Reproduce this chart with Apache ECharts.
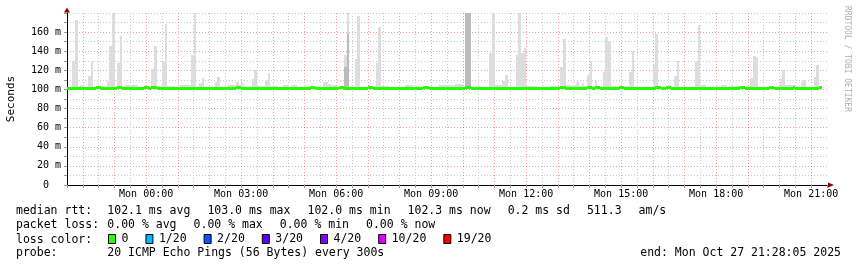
<!DOCTYPE html>
<html>
<head>
<meta charset="utf-8">
<script src="https://cdn.jsdelivr.net/npm/echarts@6.0.0/dist/echarts.min.js"></script>
<style>
html,body{margin:0;padding:0;background:#ffffff;}
#chart{width:857px;height:267px;}
</style>
</head>
<body>
<div id="chart"></div>
<script>
// ---------------- data ----------------
const START_MIN = -150;   // Sun 21:30 (minutes from Mon 00:00)
const END_MIN = 1290;     // Mon 21:30
const STEP_MIN = 5;       // 300 s probe step

const xTickMinutes = [0, 180, 360, 540, 720, 900, 1080, 1260];
const xTickLabels = ['Mon 00:00', 'Mon 03:00', 'Mon 06:00', 'Mon 09:00', 'Mon 12:00', 'Mon 15:00', 'Mon 18:00', 'Mon 21:00'];
const yTickValues = [0, 20, 40, 60, 80, 100, 120, 140, 160];
const yTickLabels = ['0  ', '20 m', '40 m', '60 m', '80 m', '100 m', '120 m', '140 m', '160 m'];

// top of the ping "smoke" per 5-minute step (ms)
const smokeMax = [
  102,102,130,173,102,105,102,102,114,130,102,102,102,102,102,108.6,145.5,179.5,102,128,156,102,104.5,104.5,
  104.5,104.5,104.5,102,102,104,104,102,121,145.5,104,104,128.6,169,104,104,104,102,102,105,105,105,105,136,
  179.6,102,106.5,112,102,102,102,102,107.5,113,102,102,102,105,105,105,107.5,105,107,102,102,102,111,120,
  104,104,104,109.6,117,104,104,104,102,102,104.7,104.7,102,104.5,104.5,102,102,102,102,102,102,102,102,102,
  102,107.5,107.5,106,104.5,104.5,102,102,102,135.7,179.6,102,102,132,177,102,102,102,102,102,102,127.6,165.6,104,
  104,104,102,102,102,102,102,102,104.5,104.5,104.5,102,102,102,102,102,102,102,102,102,102,104.5,104.5,104.5,
  104.5,104.5,104.5,106,106,106,102,179.6,179.6,102,102,102,102,102,102,102,138.5,179.6,104.5,104.5,104.5,109,115,102,
  102,102,136,179.6,138.5,143,104,104,104,104,102,102,102,102,102,104,104,104,104,123,153,104.5,104.5,104.5,
  104.5,108,104,107,104,115,130,104,109,102,102,118,155,151,104,104,102,102,102,104,104,118,140.6,102,
  102,102,102,102,102,102,125.5,158,102,102,102,102,102,102,114,130,102,102,102,102,102,102,129,167,
  104.5,104.5,102,102,102,102,102,102,105,105,102,104,104,104,104,102,102,102,102,112,135,134,102,102,
  102,102,102,102,102,102,110.7,120.5,104.5,104.5,104.5,104.5,102,102,107.5,110,102,102,102,113,125.5,104
];

// denser (darker) smoke: step index and its top (ms)
const darkSteps = [105, 106, 151, 152];
const darkTops = [124, 158, 179.6, 179.6];

// median rtt per 5-minute step (ms)
const median = [
  102,102,102,102,102,102,102,102,102,102,102,103,103,102,102,102,102,102,102,103,103,102,102,102,
  102,102,102,102,102,103,103,102,103,103,102,102,102,102,102,102,102,102,102,102,102,102,102,102,
  102,102,102,102,102,102,102,102,102,102,102,102,102,102,102,102,103,103,102,102,102,102,102,102,
  102,102,102,102,102,102,102,102,102,102,102,102,102,102,102,102,102,102,102,102,103,103,102,102,
  102,102,102,102,102,102,102,103,103,102,102,102,102,102,102,102,102,102,103,103,102,102,102,102,
  102,102,102,102,102,102,102,102,102,102,102,102,102,102,102,103,103,102,102,102,102,102,102,102,
  102,102,102,102,102,102,102,103,103,102,102,102,102,102,102,102,102,102,102,102,102,102,102,102,
  102,102,102,102,102,102,102,102,102,102,102,102,102,102,102,102,102,102,102,103,103,102,102,102,
  102,102,102,102,102,103,103,102,103,103,102,102,102,102,102,102,102,103,103,102,102,102,102,102,
  102,102,102,102,102,102,102,103,103,102,102,103,103,102,102,102,102,102,102,102,102,102,102,102,
  102,102,102,102,102,102,102,102,102,102,102,102,102,102,102,103,103,102,102,102,102,102,102,102,
  102,102,103,103,102,102,102,102,102,102,102,103,102,102,102,102,102,102,102,102,102,102.3
];

const lossLabels = ['0', '1/20', '2/20', '3/20', '4/20', '10/20', '19/20'];
const lossColors = ['#26ff00', '#00b8ff', '#0059ff', '#5e00ff', '#7e00ff', '#dd00ff', '#ff0000'];

const rttStatValues = ['102.1', '103.0', '102.0', '102.3'];
const rttStatNames = ['avg', 'max', 'min', 'now'];
const rttSd = '0.2';
const rttAmS = '511.3';
const lossStatValues = ['0.00', '0.00', '0.00', '0.00'];
const probeText = '20 ICMP Echo Pings (56 Bytes) every 300s';
const endText = 'end: Mon Oct 27 21:28:05 2025';

// ---------------- build ----------------
const MONO = 'DejaVu Sans Mono';
const n = Math.min(smokeMax.length, median.length);
const stepTime = i => START_MIN + i * STEP_MIN;

const lightData = [], medData = [], darkData = [];
for (let i = 0; i < n; i++) {
  lightData.push([stepTime(i), median[i], smokeMax[i]]);
  medData.push([stepTime(i), median[i]]);
}
darkSteps.forEach((s, k) => darkData.push([stepTime(s), median[s], darkTops[k]]));

function rectRender(color) {
  return function (params, api) {
    const t = api.value(0), lo = api.value(1), hi = api.value(2);
    if (!(hi > lo)) return null;
    const a = api.coord([t, hi]);
    const b = api.coord([t + STEP_MIN, lo]);
    const x0 = Math.round(a[0]), x1 = Math.round(b[0]);
    const y0 = Math.round(a[1]), y1 = Math.round(b[1]);
    return { type: 'rect', shape: { x: x0, y: y0, width: x1 - x0, height: y1 - y0 }, style: { fill: color } };
  };
}
function medianRender(params, api) {
  const t = api.value(0), v = api.value(1);
  const a = api.coord([t, v]);
  const b = api.coord([t + STEP_MIN, v]);
  const x0 = Math.round(a[0]), x1 = Math.round(b[0]);
  const yc = Math.round(a[1]);
  return { type: 'rect', shape: { x: x0, y: yc - 1, width: x1 - x0, height: 3 }, style: { fill: lossColors[0] } };
}

// legend text lines laid out like rrdtool (items separated by a fixed gap)
const FS = 11.5;
const measure = (() => {
  const c = document.createElement('canvas').getContext('2d');
  c.font = FS + 'px "' + MONO + '"';
  return s => c.measureText(s).width;
})();
const LEFT_X = 16, VALUE_X = 107.3, GAP = 17;
function flow(items, y) {
  let x = VALUE_X;
  return items.map(s => {
    const el = { type: 'text', x: x, y: y, style: { text: s, fill: '#000', fontSize: FS, fontFamily: MONO, verticalAlign: 'middle' } };
    x += measure(s) + GAP;
    return el;
  });
}
const lineY = [211, 225.5, 240, 253.5];
const line1 = rttStatValues.map((v, i) => v + ' ms ' + rttStatNames[i]).concat([rttSd + ' ms sd', rttAmS, 'am/s']);
const line2 = lossStatValues.map((v, i) => v + ' % ' + rttStatNames[i]);
const label = (t, y) => ({ type: 'text', x: LEFT_X, y: y, style: { text: t, fill: '#000', fontSize: FS, fontFamily: MONO, verticalAlign: 'middle' } });

const graphics = [
  label('median rtt:', lineY[0]),
  ...flow(line1, lineY[0]),
  label('packet loss:', lineY[1]),
  ...flow(line2, lineY[1]),
  label('loss color:', lineY[2]),
  label('probe:', lineY[3]),
  { type: 'text', x: VALUE_X, y: lineY[3], style: { text: probeText, fill: '#000', fontSize: FS, fontFamily: MONO, verticalAlign: 'middle' } },
  { type: 'text', x: 841, y: lineY[3], style: { text: endText, fill: '#000', fontSize: FS, fontFamily: MONO, align: 'right', verticalAlign: 'middle' } },
  { type: 'text', x: 847.5, y: 59, rotation: -Math.PI / 2, style: { text: 'RRDTOOL / TOBI OETIKER', fill: '#b0b0b0', fontSize: 8, fontFamily: MONO, align: 'center', verticalAlign: 'middle' } }
];

const GRID_RED = 'rgba(255,0,0,0.38)';
const GRID_GRAY = '#c8c8c8';
const DASH = [1, 2];

const option = {
  animation: false,
  backgroundColor: '#ffffff',
  grid: { left: 67, right: 30, top: 13, bottom: 82, containLabel: false, outerBoundsMode: 'none' },
  legend: {
    data: lossLabels, left: 108, top: 233, padding: 0, itemGap: 17, itemWidth: 7, itemHeight: 9,
    icon: 'rect', selectedMode: false,
    itemStyle: { borderColor: '#000', borderWidth: 1 },
    textStyle: { fontFamily: MONO, fontSize: FS, color: '#000', padding: [0, 0, 0, 1] }
  },
  xAxis: [
    {
      type: 'value', min: START_MIN, max: END_MIN, interval: 30, position: 'bottom',
      axisLine: { onZero: false, lineStyle: { color: '#000', width: 1 } },
      axisTick: { show: true, length: 3, lineStyle: { color: '#999' } },
      axisLabel: {
        margin: 4, fontFamily: MONO, fontSize: 10, color: '#000',
        formatter: v => { const k = xTickMinutes.indexOf(v); return k >= 0 ? xTickLabels[k] : ''; }
      },
      splitLine: { show: true, showMaxLine: false, lineStyle: { color: [GRID_GRAY, GRID_RED], type: DASH, width: 1 } }
    },
    {
      type: 'value', min: START_MIN, max: END_MIN, position: 'bottom',
      axisLine: { show: true, onZero: false, symbol: ['none', 'triangle'], symbolSize: [5, 6], symbolOffset: [0, 4], lineStyle: { color: '#8b0000', width: 0 } },
      axisTick: { show: false }, axisLabel: { show: false }, splitLine: { show: false }
    }
  ],
  yAxis: [
    {
      type: 'value', min: 0, max: 180, interval: 10, position: 'left',
      name: 'Seconds', nameLocation: 'middle', nameRotate: 90, nameGap: 50,
      nameTextStyle: { fontFamily: MONO, fontSize: 11, color: '#000' },
      axisLine: { show: true, onZero: false, lineStyle: { color: '#000', width: 1 } },
      axisTick: { show: true, length: 3, lineStyle: { color: '#999' } },
      axisLabel: {
        margin: 6, fontFamily: MONO, fontSize: 10, color: '#000',
        formatter: v => { const k = yTickValues.indexOf(v); return k >= 0 ? yTickLabels[k] : ''; }
      },
      splitLine: { show: true, showMaxLine: false, lineStyle: { color: [GRID_RED, GRID_GRAY], type: DASH, width: 1 } }
    },
    {
      type: 'value', min: 0, max: 180, interval: 90, position: 'left',
      axisLine: { show: true, onZero: false, symbol: ['none', 'triangle'], symbolSize: [6, 5], symbolOffset: [0, 3], lineStyle: { color: '#8b0000', width: 0 } },
      axisTick: { show: false }, axisLabel: { show: false },
      splitLine: { show: true, showMinLine: false, lineStyle: { color: GRID_GRAY, type: DASH, width: 1 } }
    }
  ],
  series: [
    { type: 'custom', name: 'smoke', renderItem: rectRender('#dddddd'), data: lightData, encode: { x: 0, y: [1, 2] }, clip: true, z: 2, silent: true },
    { type: 'custom', name: 'smoke dense', renderItem: rectRender('#bbbbbb'), data: darkData, encode: { x: 0, y: [1, 2] }, clip: true, z: 3, silent: true },
    { type: 'custom', name: 'median rtt', renderItem: medianRender, data: medData, encode: { x: 0, y: 1 }, clip: true, z: 5, silent: true },
    ...lossLabels.map((l, i) => ({ type: 'line', name: l, data: [], itemStyle: { color: lossColors[i] }, lineStyle: { color: lossColors[i] } }))
  ],
  graphic: graphics
};

const chart = echarts.init(document.getElementById('chart'), null, { renderer: 'canvas' });
chart.setOption(option);
</script>
</body>
</html>
